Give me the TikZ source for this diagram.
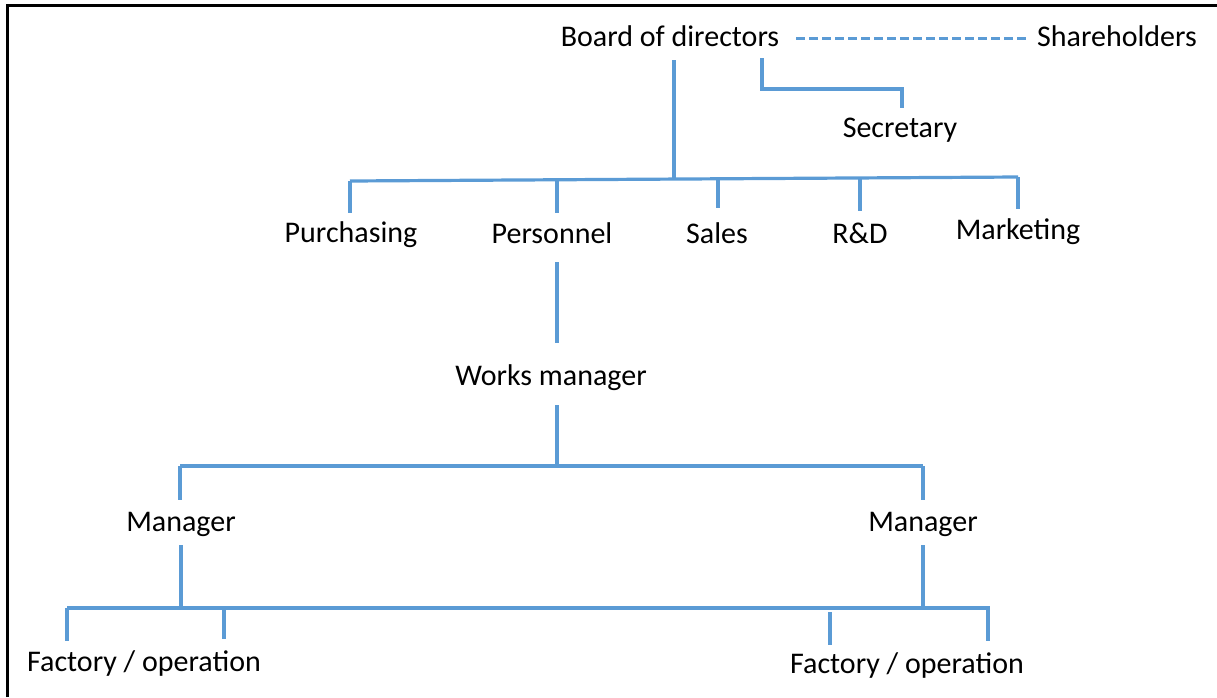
\documentclass[tikz,border=0pt]{standalone}
\usepackage{fontspec}
\setmainfont{Carlito}
\begin{document}
\begin{tikzpicture}[x=1pt,y=-1pt,
  lbl/.style={anchor=base,inner sep=0pt,font=\fontsize{30}{35}\selectfont},
  ln/.style={draw=lineblue,line width=3.2pt},
  lnb/.style={draw=lineblue,line width=4.2pt}]
\definecolor{lineblue}{RGB}{91,155,213}
\useasboundingbox (0,0) rectangle (1217,697);
\draw[line width=3pt] (7,697) -- (7,5) -- (1217,5);
% texts
\node[lbl] (bod) at (670,46) {Board of directors};
\node[lbl] (sh) at (1117,46) {Shareholders};
\node[lbl] (sec) at (900,137) {Secretary};
\node[lbl] (pur) at (351,242) {Purchasing};
\node[lbl] (per) at (552,243) {Personnel};
\node[lbl] (sal) at (717,243) {Sales};
\node[lbl] (rd) at (860,243) {R\&D};
\node[lbl] (mkt) at (1018,239) {Marketing};
\node[lbl] (wm) at (551,385) {Works manager};
\node[lbl] (m1) at (181,531) {Manager};
\node[lbl] (m2) at (923,531) {Manager};
\node[lbl] (f1) at (144,671) {Factory / operation};
\node[lbl] (f2) at (907,673) {Factory / operation};
% coordinates
\coordinate (dsA) at (796,38);
\coordinate (dsB) at (1028,38);
\coordinate (bodv) at (674,60);
\coordinate (bodj) at (674,179);
\coordinate (secA) at (762,58);
\coordinate (secB) at (902,108);
\coordinate (barL) at (350,181);
\coordinate (barR) at (1018,177);
\coordinate (perT) at (557,262);
\coordinate (wmT) at (557,343);
\coordinate (wmB) at (557,405);
\coordinate (wmJ) at (557,466);
\coordinate (mbL) at (180,466);
\coordinate (mbR) at (923,466);
\coordinate (m1B) at (181,545);
\coordinate (m1J) at (181,607);
\coordinate (m2B) at (923,545);
\coordinate (m2J) at (923,607);
\coordinate (fbL) at (67,608);
\coordinate (fbR) at (990,608);
% connectors
\draw[draw=lineblue,line width=3pt,dash pattern=on 9pt off 4pt] (dsA) -- (dsB);
\draw[ln] (bodv) -- (bodj);
\draw[ln] (secA) |- (902,89) -- (secB);
\draw[ln] (barL) -- (barR);
\draw[ln] (350,181) -- (350,213);
\draw[ln] (557,180) -- (557,213);
\draw[ln] (718,179) -- (718,208);
\draw[ln] (860,178) -- (860,211);
\draw[ln] (barR) -- (1018,209);
\draw[ln] (perT) -- (wmT);
\draw[ln] (wmB) -- (wmJ);
\draw[ln] (mbL) -- (mbR);
\draw[ln] (mbL) -- (180,500);
\draw[ln] (mbR) -- (923,500);
\draw[ln] (m1B) -- (m1J);
\draw[ln] (m2B) -- (m2J);
\draw[lnb] (fbL) -- (fbR);
\draw[ln] (fbL) -- (67,641);
\draw[ln] (224,606) -- (224,639);
\draw[ln] (830,612) -- (830,645);
\draw[ln] (988,608) -- (988,641);
\end{tikzpicture}
\end{document}
